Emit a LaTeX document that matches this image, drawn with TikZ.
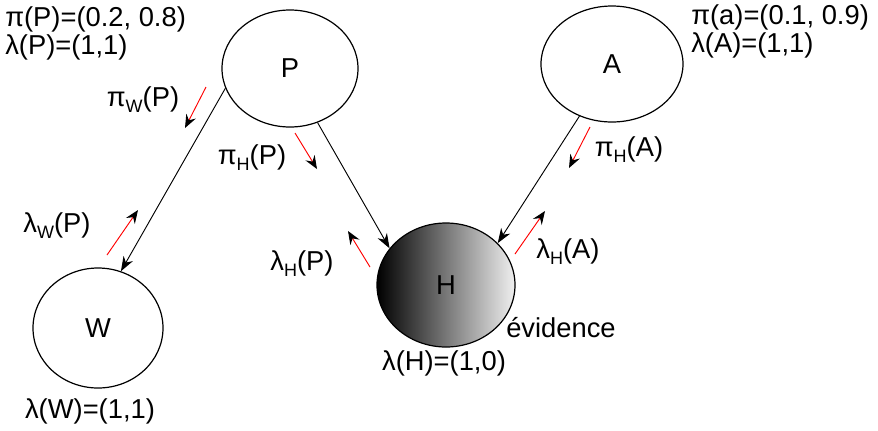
\documentclass[tikz,border=0pt]{standalone}
\usepackage{fontspec}
\setmainfont{Liberation Sans}
\usetikzlibrary{shapes.geometric,arrows.meta}
\newcommand\lsub[1]{\raisebox{-0.22em}{\fontsize{13.5}{13.5}\selectfont #1}}
\begin{document}
\begin{tikzpicture}[x=0.75pt,y=-0.75pt,
  every node/.style={font=\fontsize{20.5}{24}\selectfont},
  ell/.style={ellipse, draw, line width=0.9pt, inner sep=0pt},
  conn/.style={line width=0.7pt, -{Stealth[length=11pt,width=8pt,inset=3.5pt]}},
  flow/.style={red, line width=0.7pt, -{Stealth[length=10pt,width=8pt,inset=3.5pt,black]}},
  lbl/.style={inner sep=0pt, anchor=base}]
\useasboundingbox (0,0) rectangle (878,430);

% main nodes
\node[ell, minimum width=102pt, minimum height=87.75pt] (P) at (290,68.5) {P};
\node[ell, minimum width=106.5pt, minimum height=87pt] (A) at (612,64) {A};
\node[ell, minimum width=97.5pt, minimum height=90pt] (W) at (98,328) {W};
\node[ell, minimum width=103.5pt, minimum height=93pt, left color=black, right color=white!94!black] (H) at (446,285) {H};

% connectors
\draw[conn] (P.197) -- (W.68);
\draw[conn] (P.-63) -- (H.147);
\draw[conn] (A.238) -- (H.39);

% message arrows
\coordinate (a1s) at (206,87);  \coordinate (a1e) at (185,128);
\coordinate (a2s) at (295,133); \coordinate (a2e) at (317,169);
\coordinate (a3s) at (107,255); \coordinate (a3e) at (138,210);
\coordinate (a4s) at (370,267); \coordinate (a4e) at (348,231);
\coordinate (a5s) at (590,127); \coordinate (a5e) at (569,168);
\coordinate (a6s) at (515,254); \coordinate (a6e) at (545,211);
\draw[flow] (a1s) -- (a1e);
\draw[flow] (a2s) -- (a2e);
\draw[flow] (a3s) -- (a3e);
\draw[flow] (a4s) -- (a4e);
\draw[flow] (a5s) -- (a5e);
\draw[flow] (a6s) -- (a6e);

% labels
\node[lbl] (lpw) at (143,106) {π\lsub{W}(P)};
\node[lbl] (lph) at (252,164) {π\lsub{H}(P)};
\node[lbl] (llw) at (57,232) {λ\lsub{W}(P)};
\node[lbl] (llh) at (302,270) {λ\lsub{H}(P)};
\node[lbl] (lpa) at (629,156) {π\lsub{H}(A)};
\node[lbl] (lla) at (568,258) {λ\lsub{H}(A)};

\node[lbl, anchor=base west] (tp1) at (5,26) {π(P)=(0.2, 0.8)};
\node[lbl, anchor=base west] (tp2) at (5,54) {λ(P)=(1,1)};
\node[lbl, anchor=base west] (ta1) at (691,24) {π(a)=(0.1, 0.9)};
\node[lbl, anchor=base west] (ta2) at (691,52) {λ(A)=(1,1)};

\node[lbl] (lh) at (444,370) {λ(H)=(1,0)};
\node[lbl] (lw) at (90,418) {λ(W)=(1,1)};
\node[lbl] (ev) at (561,337) {évidence};
\end{tikzpicture}
\end{document}
